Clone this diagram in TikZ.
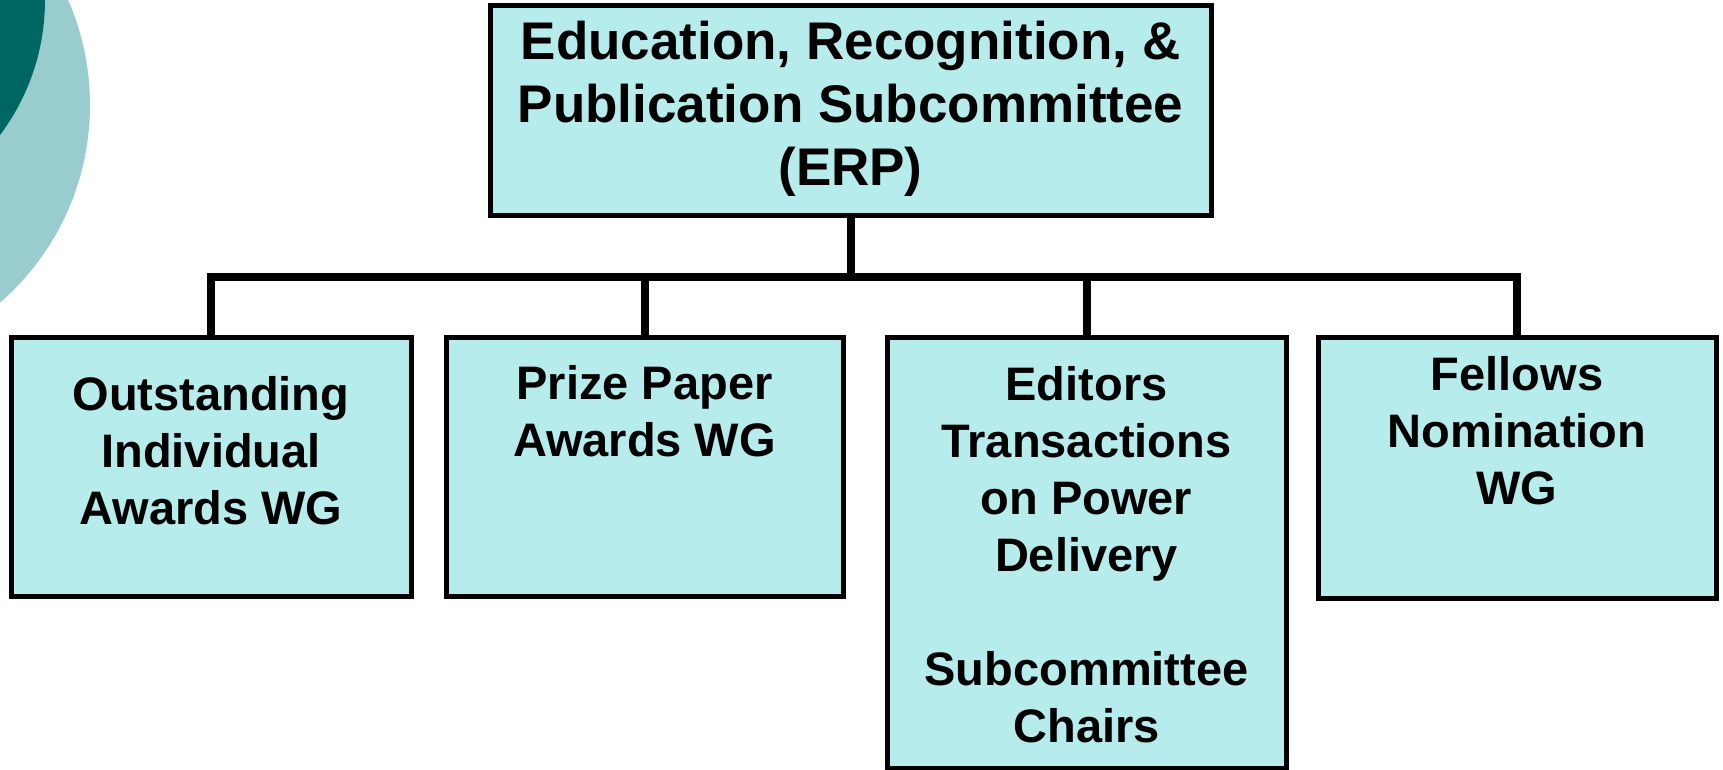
\documentclass[tikz,border=0pt]{standalone}
\usepackage{fontspec}
\setmainfont{Liberation Sans}
\definecolor{boxfill}{RGB}{182,236,236}
\definecolor{darkteal}{RGB}{0,102,100}
\definecolor{lightteal}{RGB}{153,204,204}
\begin{document}
\begin{tikzpicture}[x=1pt,y=-1pt,
  box/.style={draw=black, fill=boxfill, line width=5pt, inner sep=0pt, rectangle},
  bigtxt/.style={font=\fontsize{53}{63}\selectfont\bfseries, align=center, inner sep=0pt},
  smalltxt/.style={font=\fontsize{47}{57}\selectfont\bfseries, align=center, inner sep=0pt},
  conn/.style={line width=8pt, line join=miter}]
\useasboundingbox (0,0) rectangle (1723,769);
\begin{scope}
  \clip (0,0) rectangle (1723,769);
  \fill[lightteal] (-172,105) circle (262);
  \fill[darkteal] (-180,0) circle (225);
\end{scope}
% connectors
\coordinate (j) at (850.5,277);
% boxes
\node[box, minimum width=721, minimum height=210] (top) at (850.5,110) {};
\node[box, minimum width=400, minimum height=259] (b1) at (211,466.5) {};
\node[box, minimum width=397, minimum height=259] (b2) at (644.5,466.5) {};
\node[box, minimum width=399, minimum height=431] (b3) at (1086.5,552.5) {};
\node[box, minimum width=398, minimum height=261] (b4) at (1517,467.5) {};
\draw[conn] (top.south) -- (j);
\draw[conn] (b1.north) |- (j);
\draw[conn] (b4.north) |- (j);
\draw[conn] (b2.north) -- (b2.north |- j);
\draw[conn] (b3.north) -- (b3.north |- j);
% texts
\node[bigtxt] (toptxt) at (850.5,109) {Education, Recognition, \&\\Publication Subcommittee\\(ERP)};
\node[smalltxt] (t1) at (211,451) {Outstanding\\Individual\\Awards WG};
\node[smalltxt] (t2) at (644.5,411) {Prize Paper\\Awards WG};
\node[smalltxt] (t3) at (1086.5,554.5) {Editors\\Transactions\\on Power\\Delivery\\[57pt]Subcommittee\\Chairs};
\node[smalltxt] (t4) at (1517,431) {Fellows\\Nomination\\WG};
\end{tikzpicture}
\end{document}
